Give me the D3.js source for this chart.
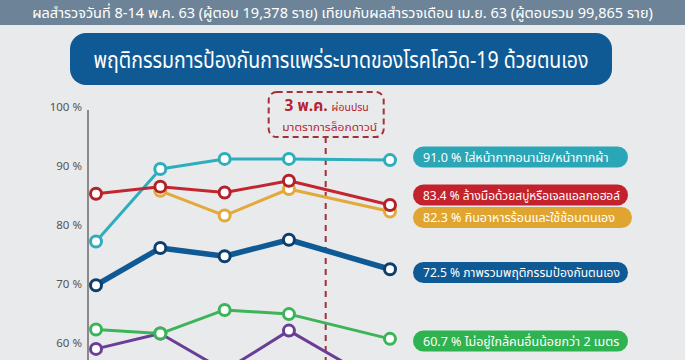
<!DOCTYPE html>
<html>
<head>
<meta charset="utf-8">
<script src="https://cdn.jsdelivr.net/npm/d3@7/dist/d3.min.js"></script>
<style>
  html, body { margin: 0; padding: 0; background: #e9eaec; overflow: hidden; }
  svg { display: block; }
  text { font-family: "Noto Sans Thai", "Noto Sans", "DejaVu Sans", sans-serif; }
</style>
</head>
<body>
<svg id="chart" width="685" height="360"></svg>
<script>
// ---------- data ----------
const headerText = "ผลสำรวจวันที่ 8-14 พ.ค. 63 (ผู้ตอบ 19,378 ราย) เทียบกับผลสำรวจเดือน เม.ย. 63 (ผู้ตอบรวม 99,865 ราย)";
const titleText = "พฤติกรรมการป้องกันการแพร่ระบาดของโรคโควิด-19 ด้วยตนเอง";
const surveyDates = ["2020-04-08", "2020-04-15", "2020-04-22", "2020-04-29", "2020-05-10"];
const lockdownDate = "2020-05-03";
const lockdownLabel1a = "3 พ.ค.";
const lockdownLabel1b = "ผ่อนปรน";
const lockdownLabel2 = "มาตราการล็อกดาวน์";
const yTicks = [60, 70, 80, 90, 100];

const seriesNames = [
  "ไม่อยู่ใกล้คนอื่นน้อยกว่า 2 เมตร",
  "ใส่หน้ากากอนามัย/หน้ากากผ้า",
  "กินอาหารร้อนและใช้ช้อนตนเอง",
  "ล้างมือด้วยสบู่หรือเจลแอลกอฮอล์",
  "ภาพรวมพฤติกรรมป้องกันตนเอง",
  "อื่น ๆ"
];
const distanceValues = [62.3, 61.6, 65.6, 64.9, 60.7];
const maskValues     = [77.2, 89.5, 91.2, 91.2, 91.0];
const foodValues     = [null, 85.8, 81.6, 86.1, 82.3];
const handValues     = [85.3, 86.5, 85.5, 87.5, 83.4];
const overallValues  = [69.8, 76.1, 74.7, 77.5, 72.5];
const otherValues    = [59.0, 61.6, 55.3, 62.1, 52.2];

// ---------- styling ----------
const W = 685, H = 360;
const svg = d3.select("#chart");

svg.append("rect").attr("width", W).attr("height", H).attr("fill", "#e9eaec");

function fitText(sel, maxW) {
  const w = sel.node().getComputedTextLength();
  if (w > maxW || w < maxW * 0.9) {
    sel.attr("textLength", maxW).attr("lengthAdjust", "spacingAndGlyphs");
  }
}

// header band
svg.append("rect").attr("x", 0).attr("y", 0).attr("width", W).attr("height", 25).attr("fill", "#6d8498");
const hdr = svg.append("text").attr("x", W / 2).attr("y", 18).attr("text-anchor", "middle")
  .attr("fill", "#ffffff").attr("font-size", 14.5).text(headerText);
fitText(hdr, 660);

// title box
svg.append("rect").attr("x", 70).attr("y", 33).attr("width", 542).attr("height", 52).attr("rx", 16)
  .attr("fill", "#0f5a95");
const ttl = svg.append("text").attr("x", 341).attr("y", 68).attr("text-anchor", "middle")
  .attr("fill", "#ffffff").attr("font-size", 23).text(titleText);
fitText(ttl, 495);

// scales
const parse = d3.utcParse("%Y-%m-%d");
const dates = surveyDates.map(parse);
const x = d3.scaleUtc().domain([dates[0], dates[dates.length - 1]]).range([96, 390]);
const y = d3.scaleLinear().domain([60, 100]).range([343, 107]);

// y axis
const yAxis = d3.axisLeft(y).tickValues(yTicks).tickSize(0).tickPadding(6).tickFormat(d => d + " %");
const gy = svg.append("g").attr("transform", "translate(88,0)").call(yAxis);
gy.select(".domain").remove();
gy.selectAll("text").attr("fill", "#555").attr("font-size", 11.5)
  .attr("font-family", "Roboto, 'Liberation Sans', sans-serif");
svg.append("line").attr("x1", 88).attr("x2", 88).attr("y1", y(100) + 3).attr("y2", H)
  .attr("stroke", "#8a8a8a").attr("stroke-width", 2);

// lockdown marker
const lx = x(parse(lockdownDate));
svg.append("line").attr("x1", lx).attr("x2", lx).attr("y1", 137).attr("y2", H)
  .attr("stroke", "#a3303b").attr("stroke-width", 2).attr("stroke-dasharray", "6,5");
svg.append("rect").attr("x", lx - 57).attr("y", 92).attr("width", 115).attr("height", 45).attr("rx", 8)
  .attr("fill", "none").attr("stroke", "#a3303b").attr("stroke-width", 2).attr("stroke-dasharray", "6,4");
const l1 = svg.append("text").attr("x", lx + 1).attr("y", 111).attr("text-anchor", "middle").attr("fill", "#b3252f");
l1.append("tspan").attr("font-size", 15.5).attr("font-weight", "bold").text(lockdownLabel1a + " ");
l1.append("tspan").attr("font-size", 10.5).text(lockdownLabel1b);
const l2 = svg.append("text").attr("x", lx + 4).attr("y", 131).attr("text-anchor", "middle")
  .attr("fill", "#b3252f").attr("font-size", 10.5).text(lockdownLabel2);
fitText(l2, 95);

// series definitions
const series = [
  { name: seriesNames[5], values: otherValues,    color: "#6a3d97", ring: "#6a3d97", width: 3,   label: null },
  { name: seriesNames[0], values: distanceValues, color: "#3bb45a", ring: "#3bb45a", width: 3,   label: 341 },
  { name: seriesNames[1], values: maskValues,     color: "#2eaebd", ring: "#2eaebd", width: 3,   label: 157 },
  { name: seriesNames[2], values: foodValues,     color: "#e2a93b", ring: "#e2a93b", width: 3,   label: 217.5 },
  { name: seriesNames[3], values: handValues,     color: "#c3262f", ring: "#b3222b", width: 3,   label: 195 },
  { name: seriesNames[4], values: overallValues,  color: "#0f5a95", ring: "#0c3f6d", width: 5.5, label: 272.5 }
];
const pillColors = {
  [seriesNames[0]]: "#2fb250",
  [seriesNames[1]]: "#2aa6b6",
  [seriesNames[2]]: "#e0a531",
  [seriesNames[3]]: "#c3222c",
  [seriesNames[4]]: "#0f5a95"
};

const line = d3.line()
  .defined(d => d.v != null)
  .x(d => x(d.date))
  .y(d => y(d.v));

const plot = svg.append("g");
series.forEach(s => {
  const pts = s.values.map((v, i) => ({ date: dates[i], v }));
  plot.append("path").datum(pts).attr("d", line)
    .attr("fill", "none").attr("stroke", s.color).attr("stroke-width", s.width)
    .attr("stroke-linejoin", "round");
  plot.selectAll(null).data(pts.filter(d => d.v != null)).enter().append("circle")
    .attr("cx", d => x(d.date)).attr("cy", d => y(d.v)).attr("r", 5.5)
    .attr("fill", "#ffffff").attr("stroke", s.ring).attr("stroke-width", 3);
});

// labels (pills)
series.filter(s => s.label != null).forEach(s => {
  const last = s.values[s.values.length - 1];
  const g = svg.append("g");
  const px = 413, ph = 21, pw = s.name === seriesNames[2] ? 219 : 215;
  g.append("rect").attr("x", px).attr("y", s.label - ph / 2).attr("width", pw).attr("height", ph)
    .attr("rx", ph / 2).attr("fill", pillColors[s.name]);
  const t = g.append("text").attr("x", px + 10).attr("y", s.label + 4.5).attr("fill", "#ffffff")
    .attr("font-size", 12.5).text(d3.format(".1f")(last) + " %  " + s.name);
  fitText(t, pw - 18);
});
</script>
</body>
</html>
